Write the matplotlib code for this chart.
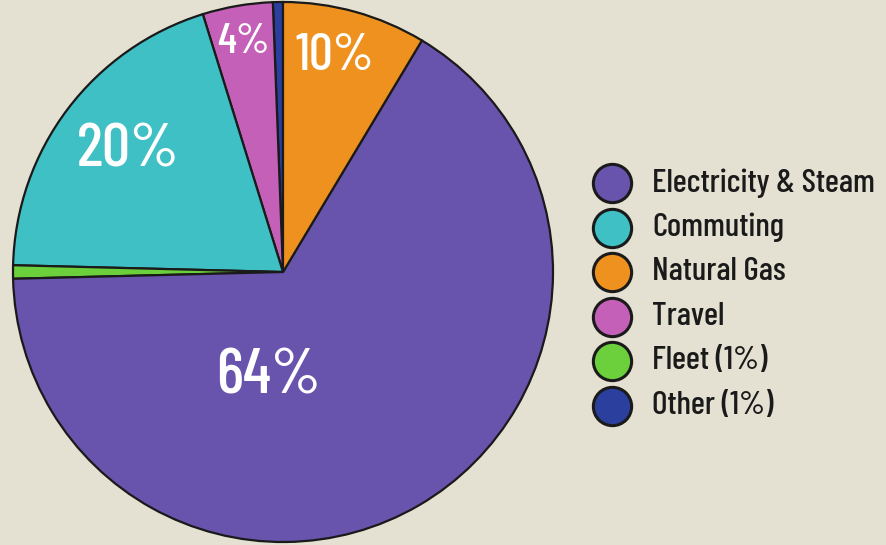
import matplotlib.pyplot as plt

# slices, counter-clockwise from 12 o'clock
labels = ['Other (1%)', 'Travel', 'Commuting', 'Fleet (1%)', 'Electricity & Steam', 'Natural Gas']
values = [0.6, 4.2, 19.8, 0.8, 66.0, 8.6]
colors = ['#2b3f9e', '#c560b8', '#3fc0c4', '#6ccf3c', '#6853ad', '#ef911f']
pct_text = ['', '4%', '20%', '', '64%', '10%']

legend_order = ['Electricity & Steam', 'Commuting', 'Natural Gas', 'Travel', 'Fleet (1%)', 'Other (1%)']

font = ['Barlow Condensed', 'DejaVu Sans']
bg = '#e4e1d2'

fig = plt.figure(figsize=(8.87, 5.45), dpi=100, facecolor=bg)
ax = fig.add_axes([0, 0, 1, 1])
ax.set_facecolor(bg)

cx, cy, r = 283, 272, 270
# y axis gets inverted below, so counterclock=False shows counter-clockwise on screen
wedges, _ = ax.pie(values, colors=colors, startangle=-90, counterclock=False,
                   center=(cx, cy), radius=r, frame=True,
                   wedgeprops={'edgecolor': '#1a1a1a', 'linewidth': 1.6})
ax.set_xlim(0, 887)
ax.set_ylim(545, 0)
ax.set_aspect('equal')
ax.axis('off')

# percentage labels placed by hand like the original graphic
label_pos = {'4%': (243, 42, 31), '10%': (335, 56, 38), '20%': (128, 150, 45), '64%': (268, 378, 46)}
for t in pct_text:
    if t:
        x, y, s = label_pos[t]
        ax.text(x, y, t, color='white', fontsize=s, family=font, weight='medium',
                ha='center', va='center')

# legend
for i, name in enumerate(legend_order):
    y = 183 + i * 44.5
    c = colors[labels.index(name)]
    ax.scatter([612], [y], s=760, color=c, edgecolor='#1a1a1a', linewidth=2.2, zorder=3)
    ax.text(652, y, name, fontsize=24, family=font, weight='medium', color='#1a1a1a',
            ha='left', va='center')

fig.savefig('out.png', dpi=100, facecolor=bg)
